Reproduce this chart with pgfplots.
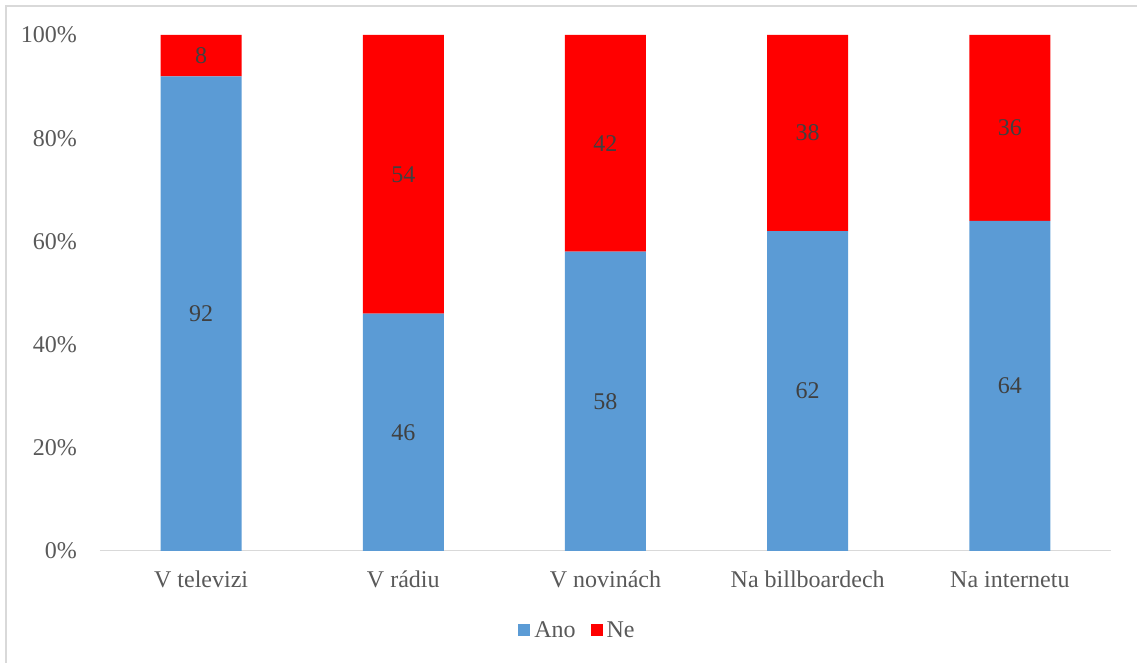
\documentclass[border=0pt]{standalone}
\usepackage{pgfplots}
\pgfplotsset{compat=1.18}
\usepackage{fontspec}
\setmainfont{Liberation Serif}
\definecolor{blu}{HTML}{5B9BD5}
\definecolor{rd}{HTML}{FF0000}
\definecolor{txt}{HTML}{595959}
\definecolor{lbl}{HTML}{404040}
\definecolor{brd}{HTML}{D9D9D9}
\begin{document}
\begin{tikzpicture}[x=1pt,y=1pt]
\useasboundingbox (0,0) rectangle (1137,663);
\draw[brd,line width=1.5pt] (6,-10) -- (6,657) -- (1150,657);
\begin{axis}[
  at={(100pt,112pt)}, anchor=south west,
  scale only axis, width=1011pt, height=516pt,
  ybar stacked, bar width=81pt,
  xmin=-0.5, xmax=4.5, ymin=0, ymax=100,
  xtick={0,1,2,3,4},
  xticklabels={V televizi, V rádiu, V novinách, Na billboardech, Na internetu},
  ytick={0,20,40,60,80,100},
  yticklabel={\pgfmathprintnumber{\tick}\%},
  axis x line*=bottom, axis y line*=left,
  y axis line style={draw=none},
  x axis line style={brd, line width=1pt},
  major tick length=0pt,
  tick style={draw=none},
  /pgf/number format/assume math mode=true,
  every tick label/.append style={font=\fontsize{24}{28}\selectfont, text=txt, inner sep=0pt},
  yticklabel style={anchor=east, xshift=-23pt},
  xticklabel style={anchor=base, yshift=-37pt},
  visualization depends on={rawy \as \myval},
  point meta=rawy,
  nodes near coords={\pgfmathprintnumber{\myval}},
  every node near coord/.append style={anchor=center, font=\fontsize{24}{28}\selectfont, text=lbl, /pgf/number format/assume math mode=true},
  legend style={at={(0.4718,-0.1531)}, anchor=center, draw=none, fill=none,
     legend columns=2, font=\fontsize{24}{28}\selectfont, text=txt,
     /tikz/every even column/.append style={column sep=14pt},
     /tikz/every odd column/.append style={column sep=3pt},
     nodes={inner sep=1pt}},
  legend image code/.code={\draw[#1,draw=none] (0pt,-6pt) rectangle (12pt,6pt);},
]
\addplot[fill=blu, draw=none] coordinates {(0,92) (1,46) (2,58) (3,62) (4,64)};
\addplot[fill=rd, draw=none] coordinates {(0,8) (1,54) (2,42) (3,38) (4,36)};
\legend{Ano, Ne}
\end{axis}
\end{tikzpicture}
\end{document}
